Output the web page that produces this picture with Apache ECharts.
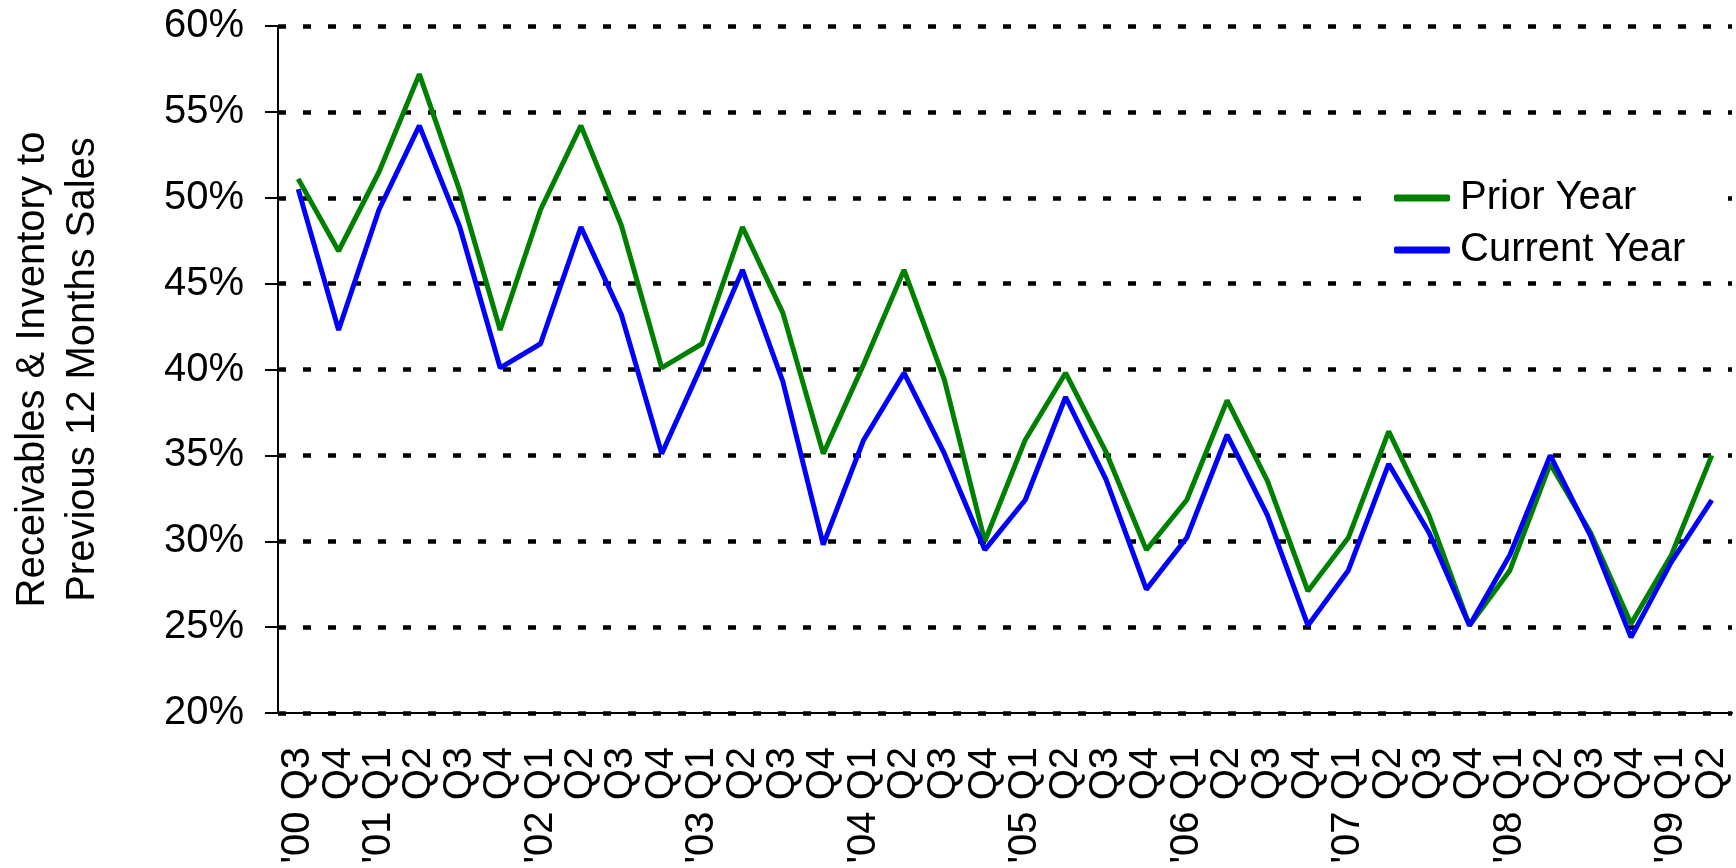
<!DOCTYPE html>
<html>
<head>
<meta charset="utf-8">
<script src="https://cdn.jsdelivr.net/npm/echarts@6/dist/echarts.min.js"></script>
<style>
  html, body { margin: 0; padding: 0; background: #fff; }
  #main { width: 1736px; height: 868px; }
</style>
</head>
<body>
<div id="main"></div>
<script>
// quarters, with the year shown on the first quarter of each year
var quarters = ['Q3', 'Q4',
  'Q1', 'Q2', 'Q3', 'Q4', 'Q1', 'Q2', 'Q3', 'Q4', 'Q1', 'Q2', 'Q3', 'Q4',
  'Q1', 'Q2', 'Q3', 'Q4', 'Q1', 'Q2', 'Q3', 'Q4', 'Q1', 'Q2', 'Q3', 'Q4',
  'Q1', 'Q2', 'Q3', 'Q4', 'Q1', 'Q2', 'Q3', 'Q4', 'Q1', 'Q2'];
var years = ["'00", '',
  "'01", '', '', '', "'02", '', '', '', "'03", '', '', '',
  "'04", '', '', '', "'05", '', '', '', "'06", '', '', '',
  "'07", '', '', '', "'08", '', '', '', "'09", ''];

// receivables & inventory as % of previous 12 months sales
var priorYear = [51.1, 46.9, 51.5, 57.2, 50.4, 42.3, 49.3, 54.2, 48.4, 40.1,
  41.5, 48.3, 43.3, 35.1, 40.3, 45.8, 39.4, 30.0, 35.9, 39.8,
  35.2, 29.5, 32.4, 38.2, 33.5, 27.1, 30.2, 36.4, 31.5, 25.1,
  28.3, 34.5, 30.5, 25.2, 29.2, 35.0];
var currentYear = [50.5, 42.3, 49.3, 54.2, 48.3, 40.1, 41.5, 48.3, 43.2, 35.1,
  40.3, 45.8, 39.3, 29.8, 35.9, 39.8, 35.1, 29.5, 32.4, 38.4,
  33.6, 27.2, 30.2, 36.2, 31.5, 25.1, 28.3, 34.5, 30.5, 25.1,
  29.2, 35.0, 30.3, 24.4, 28.8, 32.4];

var yTicks = { min: 20, max: 60, step: 5 };

var categories = quarters.map(function (q, i) {
  return years[i] ? years[i] + ' ' + q : q;
});

var font = '"Liberation Sans", Arial, sans-serif';
var chart = echarts.init(document.getElementById('main'));

chart.setOption({
  animation: false,
  textStyle: { fontFamily: font },
  grid: { left: 277, right: 4, top: 26, bottom: 155 },
  legend: {
    orient: 'vertical',
    left: 1372,
    top: 168,
    backgroundColor: '#fff',
    padding: [10, 36, 10, 22],
    itemWidth: 56,
    itemHeight: 7,
    itemGap: 12,
    icon: 'roundRect',
    textStyle: { fontSize: 40, color: '#000', fontFamily: font, lineHeight: 40, padding: [0, 0, 0, 5] },
    data: ['Prior Year', 'Current Year']
  },
  xAxis: {
    type: 'category',
    data: categories,
    boundaryGap: true,
    axisLine: { lineStyle: { color: '#000', width: 2 } },
    axisTick: { show: false },
    axisLabel: {
      rotate: 90,
      interval: 0,
      margin: 34,
      fontSize: 40,
      color: '#000',
      fontFamily: font
    },
    splitLine: { show: false }
  },
  yAxis: {
    type: 'value',
    min: yTicks.min,
    max: yTicks.max,
    interval: yTicks.step,
    name: 'Receivables & Inventory to\nPrevious 12 Months Sales',
    nameLocation: 'middle',
    nameGap: 170,
    nameTextStyle: { fontSize: 40, lineHeight: 50, color: '#000', fontFamily: font },
    axisLine: { show: true, lineStyle: { color: '#000', width: 2 } },
    axisTick: { show: true, length: 13, lineStyle: { color: '#000', width: 2 } },
    axisLabel: {
      formatter: '{value}%',
      margin: 34,
      fontSize: 40,
      color: '#000',
      fontFamily: font
    },
    splitLine: {
      show: true,
      lineStyle: { color: '#000', width: 4.5, type: [8, 17] }
    }
  },
  series: [
    {
      name: 'Prior Year',
      type: 'line',
      data: priorYear,
      showSymbol: false,
      symbol: 'none',
      color: '#008000',
      lineStyle: { color: '#008000', width: 5 }
    },
    {
      name: 'Current Year',
      type: 'line',
      data: currentYear,
      showSymbol: false,
      symbol: 'none',
      color: '#0000ff',
      lineStyle: { color: '#0000ff', width: 5 }
    }
  ]
});
</script>
</body>
</html>
